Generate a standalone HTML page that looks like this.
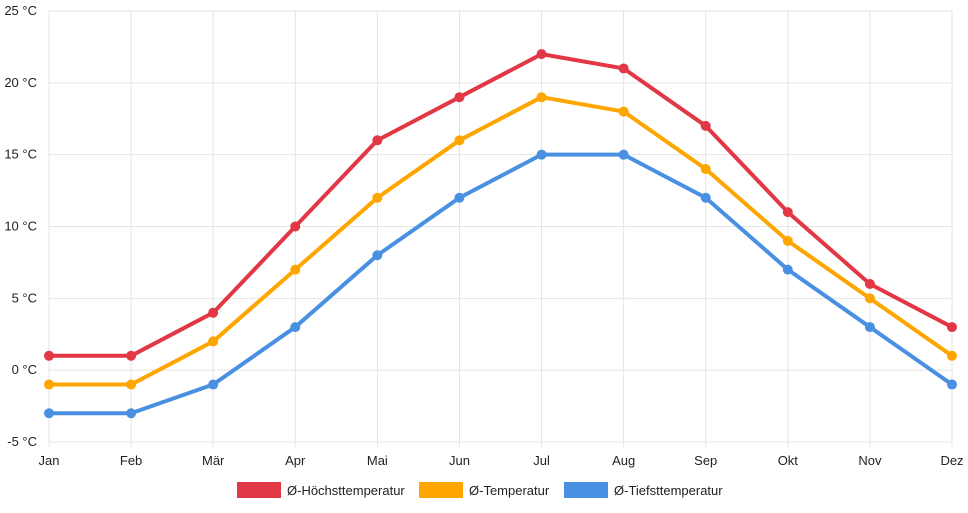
<!DOCTYPE html>
<html><head><meta charset="utf-8"><style>
body{margin:0;background:#fff;font-family:"Liberation Sans",sans-serif;}
svg text{font-family:"Liberation Sans",sans-serif;font-size:13px;fill:#222;}
</style></head><body>
<svg id="chart" width="968" height="508" xmlns="http://www.w3.org/2000/svg"></svg>
<script>
const months=["Jan","Feb","Mär","Apr","Mai","Jun","Jul","Aug","Sep","Okt","Nov","Dez"];
const highTemps=[1,1,4,10,16,19,22,21,17,11,6,3];
const meanTemps=[-1,-1,2,7,12,16,19,18,14,9,5,1];
const lowTemps=[-3,-3,-1,3,8,12,15,15,12,7,3,-1];
const yTicks=[-5,0,5,10,15,20,25];
const seriesNames=["Ø-Höchsttemperatur","Ø-Temperatur","Ø-Tiefsttemperatur"];
const colors=["#e23744","#ffa500","#4a90e2"];
const svg=document.getElementById('chart');
const NS="http://www.w3.org/2000/svg";
const x0=49,x1=952,yTop=11,yBot=442,yMin=-5,yMax=25;
const xs=i=>x0+i*(x1-x0)/(months.length-1);
const ys=v=>yBot-(v-yMin)/(yMax-yMin)*(yBot-yTop);
function mk(t,a,p){const e=document.createElementNS(NS,t);for(const k in a)e.setAttribute(k,a[k]);(p||svg).appendChild(e);return e;}
const grid=mk('g',{});


yTicks.forEach(v=>{
  mk('line',{x1:x0,x2:x1,y1:ys(v),y2:ys(v),stroke:'#e4e4e4','stroke-width':1},grid);
  const t=mk('text',{x:37,y:ys(v)+4,'text-anchor':'end'});
  
  
  t.textContent=v+" °C";
});
months.forEach((m,i)=>{
  mk('line',{x1:xs(i),x2:xs(i),y1:yTop,y2:yBot+5,stroke:'#e4e4e4','stroke-width':1},grid);
  const t=mk('text',{x:xs(i),y:465,'text-anchor':'middle'});
  
  
  t.textContent=m;
});
[highTemps,meanTemps,lowTemps].forEach((d,s)=>{
  const g=mk('g',{});
  
  
  mk('polyline',{points:d.map((v,i)=>xs(i)+","+ys(v)).join(" "),fill:'none',stroke:colors[s],'stroke-width':4,'stroke-linejoin':'round'},g);
  d.forEach((v,i)=>{
    const c=mk('circle',{cx:xs(i),cy:ys(v),r:5,fill:colors[s]},g);
    
    
  });
});
const legX=[237,419,564];
seriesNames.forEach((n,s)=>{
  const g=mk('g',{});
  
  
  mk('rect',{x:legX[s],y:482,width:44,height:16,fill:colors[s]},g);
  const t=mk('text',{x:legX[s]+50,y:495},g);
  t.textContent=n;
});
</script>
</body></html>
